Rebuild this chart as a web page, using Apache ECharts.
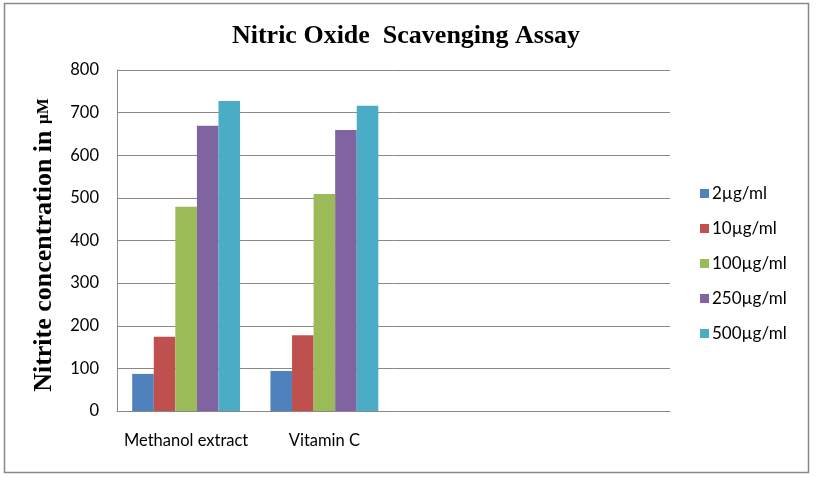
<!DOCTYPE html>
<html>
<head>
<meta charset="utf-8">
<script src="https://cdn.jsdelivr.net/npm/echarts@6/dist/echarts.min.js"></script>
<style>
html,body{margin:0;padding:0;background:#fff;}
#main{width:816px;height:477px;}
</style>
</head>
<body>
<div id="main"></div>
<script>
const categories = ['Methanol extract', 'Vitamin C', '', ''];
const seriesNames = ['2µg/ml', '10µg/ml', '100µg/ml', '250µg/ml', '500µg/ml'];
const s2 = [87, 94, '-', '-'];
const s10 = [174, 178, '-', '-'];
const s100 = [479, 509, '-', '-'];
const s250 = [669, 659, '-', '-'];
const s500 = [727, 716, '-', '-'];
const yTicks = [0, 100, 200, 300, 400, 500, 600, 700, 800];
const colors = ['#4F81BD', '#C0504D', '#9BBB59', '#8064A2', '#4BACC6'];

const values = [s2, s10, s100, s250, s500];
const chart = echarts.init(document.getElementById('main'), null, {renderer: 'canvas'});
chart.setOption({
  animation: false,
  color: colors,
  title: {
    text: 'Nitric Oxide  Scavenging Assay',
    left: 401, top: 18, textAlign: 'center',
    textStyle: {fontFamily: 'Liberation Serif', fontWeight: 'bold', fontSize: 26, color: '#000'}
  },
  graphic: [
    {type: 'rect', shape: {x: 4.5, y: 3.5, width: 804, height: 469},
     style: {fill: 'none', stroke: '#888', lineWidth: 1.5}, silent: true},
    {type: 'text', x: 44, y: 245, rotation: Math.PI / 2,
     style: {
       text: '{a|Nitrite concentration in }{b|µM}',
       align: 'center', verticalAlign: 'middle',
       rich: {
         a: {fontFamily: 'Liberation Serif', fontWeight: 'bold', fontSize: 26, fill: '#000'},
         b: {fontFamily: 'Liberation Serif', fontWeight: 'bold', fontSize: 17, fill: '#000'}
       }
     }}
  ],
  legend: {
    orient: 'vertical', left: 695, top: 180,
    itemWidth: 9, itemHeight: 9, itemGap: 18,
    icon: 'rect',
    data: seriesNames,
    textStyle: {fontFamily: 'Lato', fontSize: 17, color: '#000', lineHeight: 16, padding: [0, 0, 0, -2]}
  },
  grid: {left: 117, right: 146, top: 70, bottom: 66, containLabel: false},
  xAxis: {
    type: 'category', data: categories,
    axisLine: {lineStyle: {color: '#888', width: 1}},
    axisTick: {show: false},
    axisLabel: {fontFamily: 'Lato', fontSize: 16.5, color: '#000', margin: 21, interval: 0}
  },
  yAxis: {
    type: 'value', min: yTicks[0], max: yTicks[yTicks.length - 1], interval: 100,
    axisLine: {show: true, lineStyle: {color: '#888', width: 1}},
    axisTick: {show: false},
    splitLine: {lineStyle: {color: '#888', width: 1}},
    axisLabel: {fontFamily: 'Lato', fontSize: 16.5, color: '#000', margin: 18}
  },
  series: seriesNames.map((n, i) => ({
    name: n, type: 'bar', data: values[i],
    barGap: '0%', barCategoryGap: '22%'
  }))
});
</script>
</body>
</html>
